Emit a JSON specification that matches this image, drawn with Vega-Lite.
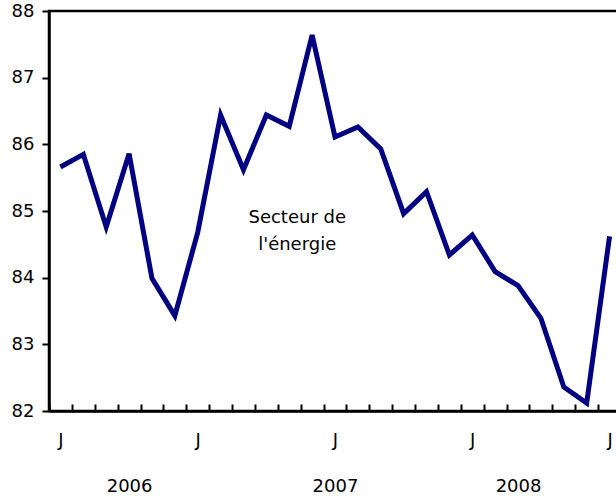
{
  "$schema": "https://vega.github.io/schema/vega-lite/v6.json",
  "autosize": {"type": "none"},
  "padding": {"left": 49, "top": 11, "right": 0, "bottom": 88},
  "width": 572,
  "height": 400,
  "config": {
    "font": "DejaVu Sans",
    "view": {"stroke": "black", "strokeWidth": 2.5},
    "axis": {"grid": false, "domainColor": "black", "domainWidth": 2.5, "tickColor": "black", "tickWidth": 2, "labelColor": "black", "labelFont": "DejaVu Sans", "labelFontSize": 18}
  },
  "layer": [
    {
      "data": {
        "values": [
          {"month": "2006-07", "value": 85.66},
          {"month": "2006-08", "value": 85.85},
          {"month": "2006-09", "value": 84.76},
          {"month": "2006-10", "value": 85.86},
          {"month": "2006-11", "value": 83.99},
          {"month": "2006-12", "value": 83.43},
          {"month": "2007-01", "value": 84.68},
          {"month": "2007-02", "value": 86.44},
          {"month": "2007-03", "value": 85.62},
          {"month": "2007-04", "value": 86.44},
          {"month": "2007-05", "value": 86.27},
          {"month": "2007-06", "value": 87.64},
          {"month": "2007-07", "value": 86.11},
          {"month": "2007-08", "value": 86.26},
          {"month": "2007-09", "value": 85.93},
          {"month": "2007-10", "value": 84.96},
          {"month": "2007-11", "value": 85.29},
          {"month": "2007-12", "value": 84.34},
          {"month": "2008-01", "value": 84.64},
          {"month": "2008-02", "value": 84.09},
          {"month": "2008-03", "value": 83.88},
          {"month": "2008-04", "value": 83.39},
          {"month": "2008-05", "value": 82.36},
          {"month": "2008-06", "value": 82.12},
          {"month": "2008-07", "value": 84.62}
        ]
      },
      "mark": {"type": "line", "color": "#000080", "strokeWidth": 5},
      "encoding": {
        "x": {
          "field": "month", "type": "ordinal",
          "scale": {"type": "point", "padding": 0.5},
          "axis": {
            "title": null, "labelAngle": 0, "tickSize": -7, "tickOffset": -11.44, "labelOffset": 11.44,
            "labelPadding": 27, "labelBaseline": "top", "labelLineHeight": 46, "labelOverlap": false,
            "labelExpr": "datum.value == '2006-10' ? ['', '2006'] : datum.value == '2007-07' ? ['J', '2007'] : datum.value == '2008-03' ? ['', '\u00a0\u00a02008'] : (slice(datum.value, 5) == '01' || slice(datum.value, 5) == '07') ? 'J' : ''"
          }
        },
        "y": {
          "field": "value", "type": "quantitative",
          "scale": {"domain": [82, 88], "nice": false, "zero": false},
          "axis": {"title": null, "values": [82, 83, 84, 85, 86, 87, 88], "format": "d", "tickSize": 7, "labelPadding": 8}
        }
      }
    },
    {
      "data": {"values": [{"label": "Secteur de l'énergie"}]},
      "mark": {"type": "text", "text": ["Secteur de", "l'énergie"], "lineHeight": 27, "baseline": "top", "align": "center", "fontSize": 18, "font": "DejaVu Sans", "color": "black", "dx": 8},
      "encoding": {
        "x": {"datum": "2007-05", "type": "ordinal"},
        "y": {"datum": 85.03, "type": "quantitative"}
      }
    }
  ]
}
